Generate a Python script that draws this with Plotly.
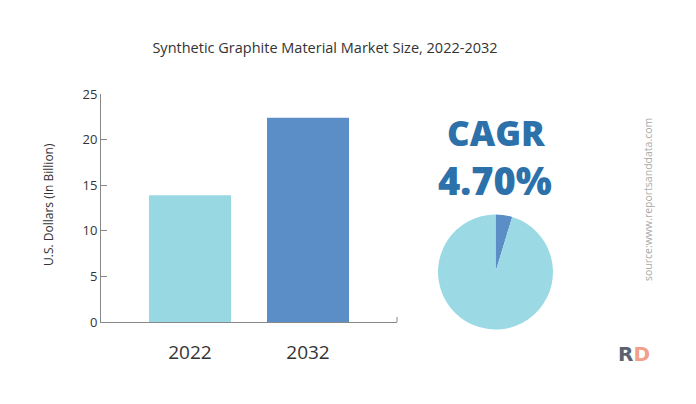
import plotly.graph_objects as go

years = ["2022", "2032"]
market_size = [13.9, 22.4]
bar_colors = ["#98D8E3", "#5B8DC7"]
cagr_text = "4.70%"
pie_values = [4.7, 95.3]
pie_colors = ["#5B8DC7", "#9BDAE5"]
y_ticks = [0, 5, 10, 15, 20, 25]

W, H = 696, 404


def px(x):
    return x / W


def py(y):
    return (H - y) / H


fig = go.Figure()

fig.add_trace(go.Bar(
    x=years,
    y=market_size,
    marker=dict(color=bar_colors, line=dict(width=0)),
    width=0.695,
    showlegend=False,
    hoverinfo="x+y",
))

fig.add_trace(go.Pie(
    values=pie_values,
    marker=dict(colors=pie_colors, line=dict(width=0)),
    sort=False,
    direction="clockwise",
    rotation=0,
    textinfo="none",
    showlegend=False,
    domain=dict(x=[px(438), px(553)], y=[py(330), py(214)]),
))

fig.update_layout(
    width=W,
    height=H,
    margin=dict(l=0, r=0, t=0, b=0, autoexpand=False),
    paper_bgcolor="white",
    plot_bgcolor="white",
    font=dict(family="Open Sans", color="#333333"),
    title=dict(
        text="Synthetic Graphite Material Market Size, 2022-2032",
        x=px(325), xanchor="center",
        y=py(48), yanchor="middle",
        font=dict(size=14.5, color="#333333"),
    ),
    xaxis=dict(
        domain=[px(101), px(397)],
        range=[-0.754, 1.754],
        showline=True, linecolor="#888888", linewidth=1,
        ticks="", showgrid=False, zeroline=False,
        tickfont=dict(size=19, color="#333333"),
        ticklabelstandoff=13,
    ),
    yaxis=dict(
        domain=[py(322), py(94)],
        range=[0, 25],
        tickvals=y_ticks,
        showline=True, linecolor="#888888", linewidth=1,
        ticks="inside", ticklen=6, tickcolor="#888888",
        showgrid=False, zeroline=False,
        tickfont=dict(size=13, color="#333333"),
    ),
)

# small end tick on the x axis
fig.add_shape(type="line", xref="paper", yref="paper",
              x0=px(397), x1=px(397), y0=py(322), y1=py(317),
              line=dict(color="#888888", width=1))


def note(text, x, y, **kw):
    fig.add_annotation(text=text, xref="paper", yref="paper", x=px(x), y=py(y),
                       xanchor="center", yanchor="middle", showarrow=False, **kw)


note("U.S. Dollars (In Billion)", 48, 205, textangle=-90,
     font=dict(size=12, color="#333333"))
note("CAGR", 496, 133,
     font=dict(size=35, color="#2D71AB", family="Open Sans", weight=800))
note(cagr_text, 495, 180,
     font=dict(size=38, color="#2D71AB", family="Open Sans", weight=800))
note("source:www.reportsanddata.com", 648, 200, textangle=-90,
     font=dict(size=10.5, color="#AAAAAA"))
note("<span style='color:#5A6270'>R</span><span style='color:#F2A08A'>D</span>",
     634, 354, font=dict(size=20, family="DejaVu Sans", weight=800))

fig.write_html("out.html", config={"displayModeBar": False},
               post_script="document.body.style.margin='0';")
